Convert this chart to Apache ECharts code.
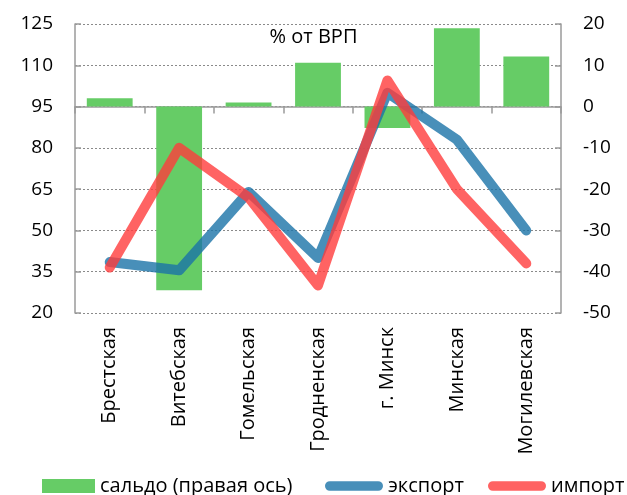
<!DOCTYPE html>
<html><head><meta charset="utf-8">
<script src="https://cdn.jsdelivr.net/npm/echarts@6/dist/echarts.min.js"></script>
<style>html,body{margin:0;padding:0;background:#fff}#c{width:627px;height:495px}</style>
</head><body><div id="c"></div>
<script>
const categories = ['Брестская','Витебская','Гомельская','Гродненская','г. Минск','Минская','Могилевская'];
const saldo = [2.0, -44.5, 1.0, 10.6, -5.2, 19.0, 12.1];
const eksport = [38.5, 35.5, 64, 40, 100, 83, 50];
const import_ = [36.5, 80, 62, 30, 104.5, 65, 38];
const leftTicks = {min: 20, max: 125, interval: 15};
const rightTicks = {min: -50, max: 20, interval: 10};
const FONT = 'Open Sans';
const chart = echarts.init(document.getElementById('c'));
const capsule = 'path://M5,0 L55,0 A5,5 0 0 1 55,10 L5,10 A5,5 0 0 1 5,0 Z';
const legendText = {fontFamily: FONT, fontSize: 20, color: '#000'};
chart.setOption({
  animation: false,
  textStyle: {fontFamily: FONT},
  title: {text: '% от ВРП', left: 'center', top: 27, padding: 0, textStyle: {fontFamily: FONT, fontSize: 20, fontWeight: 'normal', color: '#000'}},
  grid: {left: 75, right: 66, top: 24, bottom: 182},
  legend: [
    {left: 42, top: 476, padding: 0, itemWidth: 53, itemHeight: 14, textStyle: legendText, data: [{name: 'сальдо (правая ось)', icon: 'rect'}]},
    {left: 325, top: 476, padding: 0, itemWidth: 58, itemHeight: 10, textStyle: legendText, data: [{name: 'экспорт', icon: capsule}]},
    {left: 488, top: 476, padding: 0, itemWidth: 58, itemHeight: 10, textStyle: legendText, data: [{name: 'импорт', icon: capsule}]}
  ],
  xAxis: {
    type: 'category', data: categories, boundaryGap: true,
    axisLine: {lineStyle: {color: '#9a9a9a', width: 1.5}},
    axisTick: {show: true, length: 7, lineStyle: {color: '#9a9a9a', width: 1.5}},
    axisLabel: {rotate: 90, margin: 14, fontSize: 20, color: '#000', fontFamily: FONT}
  },
  yAxis: [
    {type: 'value', min: leftTicks.min, max: leftTicks.max, interval: leftTicks.interval, position: 'left',
     axisLine: {show: true, lineStyle: {color: '#9a9a9a', width: 1.5}},
     axisTick: {show: true, inside: true, length: 6, lineStyle: {color: '#9a9a9a', width: 1.5}},
     axisLabel: {fontSize: 19, color: '#000', margin: 22, fontFamily: FONT},
     splitLine: {show: true, lineStyle: {color: '#8a8a8a', type: [2, 2], width: 1}}},
    {type: 'value', min: rightTicks.min, max: rightTicks.max, interval: rightTicks.interval, position: 'right',
     axisLine: {show: true, lineStyle: {color: '#9a9a9a', width: 1.5}},
     axisTick: {show: true, inside: true, length: 6, lineStyle: {color: '#9a9a9a', width: 1.5}},
     axisLabel: {fontSize: 19, color: '#000', margin: 22, fontFamily: FONT},
     splitLine: {show: false}}
  ],
  series: [
    {name: 'сальдо (правая ось)', type: 'bar', yAxisIndex: 1, data: saldo, barWidth: '66%',
     itemStyle: {color: '#66cc66'}},
    {name: 'экспорт', type: 'line', yAxisIndex: 0, data: eksport, showSymbol: false, symbol: 'none',
     itemStyle: {color: '#488fb9'},
     lineStyle: {color: '#1a73a8', opacity: 0.8, width: 10, cap: 'round', join: 'round'}},
    {name: 'импорт', type: 'line', yAxisIndex: 0, data: import_, showSymbol: false, symbol: 'none',
     itemStyle: {color: '#ff6262'},
     lineStyle: {color: '#ff3c3c', opacity: 0.8, width: 10, cap: 'round', join: 'round'}}
  ]
});
</script></body></html>
